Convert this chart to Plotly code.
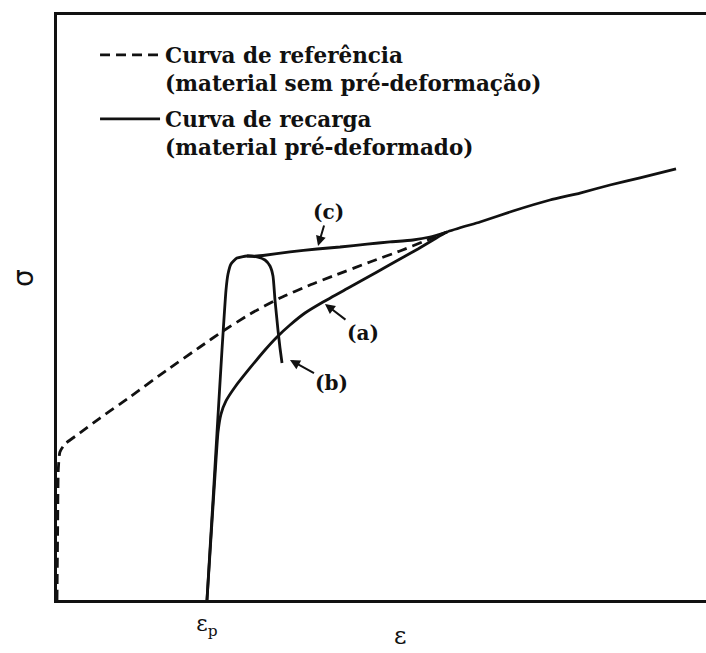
import plotly.graph_objects as go

# Reference curve: material without pre-strain (strain, stress in arbitrary units)
ref_strain = [0, 0.10, 0.20, 0.45, 1.23, 3.54, 6.63, 11.25, 16.95, 22.03, 25.58, 29.74,
              34.36, 38.98, 42.53, 48.23, 52.85, 56.70, 60.09]
ref_stress = [0, 12.0, 22.3, 25.3, 26.67, 28.55, 31.11, 34.70, 39.32, 43.25, 45.98, 48.89,
              51.62, 53.85, 55.38, 57.78, 59.66, 61.37, 62.91]

# Reloading curve (a): gradual yielding, joins the reference curve and keeps hardening
a_strain = [23.11, 23.88, 24.50, 24.81, 25.27, 26.04, 27.43, 29.74, 32.05, 33.90, 35.90,
            38.21, 40.99, 45.15, 49.31, 52.85, 55.62, 57.94, 60.09, 65.18, 70.26, 75.96,
            80.59, 85.21, 89.83, 95.38]
a_stress = [0, 13.33, 23.93, 28.72, 31.79, 34.02, 36.41, 39.66, 42.74, 44.96, 47.01,
            49.06, 50.94, 53.50, 56.07, 58.29, 60.00, 61.54, 62.91, 64.62, 66.50, 68.38,
            69.57, 70.94, 72.14, 73.68]

# Reloading curve (b): yield peak followed by softening
b_strain = [23.11, 23.57, 24.04, 24.65, 25.42, 26.04, 26.35, 26.81, 27.73, 29.28, 30.82,
            32.05, 32.82, 33.28, 33.59, 34.05, 34.36, 34.67]
b_stress = [0, 8.55, 17.09, 28.55, 42.74, 52.99, 55.73, 57.44, 58.46, 58.80, 58.63,
            58.12, 57.09, 55.38, 51.28, 46.15, 43.08, 40.51]

# Reloading curve (c): yield plateau from the peak of (b)
c_strain = [29.28, 30.82, 31.74, 35.90, 40.06, 43.61, 47.77, 51.31, 54.85, 57.47, 60.09]
c_stress = [58.80, 58.80, 58.89, 59.49, 60.00, 60.34, 60.85, 61.20, 61.54, 62.05, 62.91]

# Pre-strain marked on the strain axis
eps_p = 23.11

# Labelled points on the reloading curves: (label, strain, stress, dx, dy)
curve_labels = [
    ("(c)", 40.22, 60.51, 10, -34),
    ("(a)", 41.29, 50.60, 38, 29),
    ("(b)", 35.90, 41.03, 42, 23),
]

INK = "#111111"
SERIF = "DejaVu Serif"
LINE_W = 2.8

fig = go.Figure()

fig.add_trace(go.Scatter(
    x=ref_strain, y=ref_stress, mode="lines",
    line=dict(color=INK, width=LINE_W, dash="10px,6px", shape="spline", smoothing=0.5),
    name="Curva de referência<br>(material sem pré-deformação)",
    legendgroup="ref", hoverinfo="skip",
))
fig.add_trace(go.Scatter(
    x=a_strain, y=a_stress, mode="lines",
    line=dict(color=INK, width=LINE_W, shape="spline", smoothing=0.5),
    name="Curva de recarga<br>(material pré-deformado)",
    legendgroup="rec", hoverinfo="skip",
))
fig.add_trace(go.Scatter(
    x=b_strain, y=b_stress, mode="lines",
    line=dict(color=INK, width=LINE_W, shape="spline", smoothing=0.5),
    legendgroup="rec", showlegend=False, hoverinfo="skip",
))
fig.add_trace(go.Scatter(
    x=c_strain, y=c_stress, mode="lines",
    line=dict(color=INK, width=LINE_W, shape="spline", smoothing=0.5),
    legendgroup="rec", showlegend=False, hoverinfo="skip",
))

for text, sx, sy, dx, dy in curve_labels:
    fig.add_annotation(
        x=sx, y=sy, text=text, showarrow=True, ax=dx, ay=dy,
        arrowhead=2, arrowsize=1, arrowwidth=2, arrowcolor=INK, standoff=0,
        font=dict(family=SERIF, size=20, color=INK, weight="bold"),
    )

# Axis symbols
fig.add_annotation(x=-0.0524, y=0.5504, xref="paper", yref="paper", text="σ",
                   showarrow=False, textangle=-90, xanchor="center", yanchor="middle",
                   font=dict(family="DejaVu Sans", size=28, color=INK))
fig.add_annotation(x=0.5285, y=-0.0615, xref="paper", yref="paper", text="ε",
                   showarrow=False, xanchor="center", yanchor="middle",
                   font=dict(family=SERIF, size=24, color=INK))

fig.update_layout(
    width=706, height=653,
    margin=dict(l=57, r=0, t=15, b=53),
    paper_bgcolor="white", plot_bgcolor="white",
    showlegend=True,
    legend=dict(
        x=0.0586, y=0.9667, xanchor="left", yanchor="top",
        font=dict(family=SERIF, size=21.5, color=INK, weight="bold"),
        bgcolor="rgba(0,0,0,0)", valign="top", tracegroupgap=5,
        itemwidth=60,
    ),
    xaxis=dict(
        range=[0, 100], showgrid=False, zeroline=False,
        showline=True, linecolor=INK, linewidth=3, mirror=True,
        tickvals=[eps_p], ticktext=["ε<sub>p</sub>"], ticks="",
        tickfont=dict(family=SERIF, size=22, color=INK),
        ticklabelstandoff=2,
    ),
    yaxis=dict(
        range=[0, 100], showgrid=False, zeroline=False,
        showline=True, linecolor=INK, linewidth=3, mirror=False,
        showticklabels=False, ticks="",
    ),
)

fig.write_html("out.html")
